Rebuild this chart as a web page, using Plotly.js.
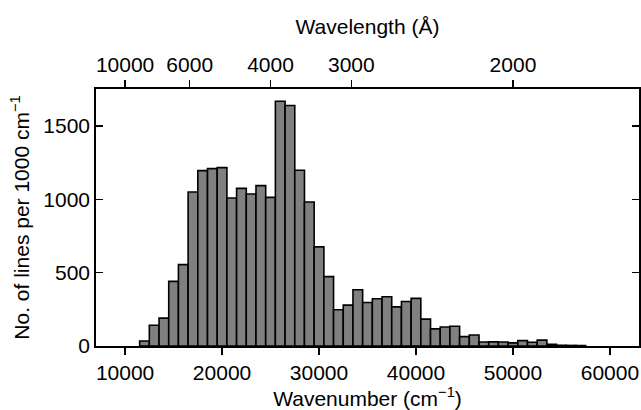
<!DOCTYPE html>
<html>
<head>
<meta charset="utf-8">
<script src="https://cdn.plot.ly/plotly-3.0.1.min.js"></script>
<style>html,body{margin:0;padding:0;background:#fff;}#chart{width:641px;height:410px;}</style>
</head>
<body>
<div id="chart"></div>
<script>
// Bin centres (cm^-1), 1000 cm^-1 wide bins
var wavenumbers = [12000,13000,14000,15000,16000,17000,18000,19000,20000,21000,
                   22000,23000,24000,25000,26000,27000,28000,29000,30000,31000,
                   32000,33000,34000,35000,36000,37000,38000,39000,40000,41000,
                   42000,43000,44000,45000,46000,47000,48000,49000,50000,51000,
                   52000,53000,54000,55000,56000,57000];
var counts = [34,142,190,441,555,1050,1196,1210,1217,1009,
              1075,1037,1094,1014,1669,1640,1199,982,676,473,
              247,279,384,297,322,336,267,304,325,183,
              117,130,135,64,75,27,28,27,21,37,
              26,40,11,5,4,3];
var binWidth = 1000;
var wavenumberTicks = [10000, 20000, 30000, 40000, 50000, 60000];
var wavenumberTickText = wavenumberTicks.map(String);
var countTicks = [0, 500, 1000, 1500];
var countTickText = countTicks.map(String);
var wavelengthTicks = [10000, 6000, 4000, 3000, 2000]; // Angstrom
var wavelengthTickVals = wavelengthTicks.map(function(l){ return 1e8 / l; });
var wavelengthTickText = wavelengthTicks.map(String);

var font = {family: 'Liberation Sans, Arial, sans-serif', size: 21, color: '#000'};
var xr = [7000, 63000];

var traces = [
  {
    type: 'bar',
    x: wavenumbers,
    y: counts,
    width: wavenumbers.map(function(){ return binWidth; }),
    marker: {color: '#808080', line: {color: '#000', width: 1.6}},
    xaxis: 'x', yaxis: 'y',
    hoverinfo: 'x+y'
  },
  {
    type: 'scatter', mode: 'markers',
    x: [xr[0], xr[1]], y: [0, 0],
    marker: {opacity: 0, size: 1}, xaxis: 'x2', yaxis: 'y',
    hoverinfo: 'skip', showlegend: false
  }
];

var layout = {
  width: 641, height: 410,
  margin: {l: 96, r: 2, t: 89, b: 64},
  paper_bgcolor: '#fff', plot_bgcolor: '#fff',
  showlegend: false,
  bargap: 0,
  font: font,
  xaxis: {
    range: xr,
    tickvals: wavenumberTicks, ticktext: wavenumberTickText,
    ticks: 'outside', ticklen: 7, tickwidth: 1.5, tickcolor: '#000',
    showline: true, linecolor: '#000', linewidth: 1.8, mirror: true,
    showgrid: false, zeroline: false,
    tickfont: font,
    title: {text: 'Wavenumber (cm<sup>\u22121</sup>)', font: font, standoff: 4}
  },
  xaxis2: {
    overlaying: 'x', side: 'top', anchor: 'y',
    range: xr,
    tickvals: wavelengthTickVals, ticktext: wavelengthTickText,
    ticks: 'outside', ticklen: 7, tickwidth: 1.5, tickcolor: '#000',
    showline: true, linecolor: '#000', linewidth: 1.8,
    showgrid: false, zeroline: false,
    tickfont: font,
    title: {text: 'Wavelength (\u00C5)', font: font, standoff: 12}
  },
  yaxis: {
    range: [0, 1753],
    tickvals: countTicks, ticktext: countTickText,
    ticks: 'inside', ticklen: 7, tickwidth: 1.5, tickcolor: '#000',
    showline: true, linecolor: '#000', linewidth: 1.8, mirror: 'ticks',
    showgrid: false, zeroline: false,
    tickfont: font,
    title: {text: 'No. of lines per 1000 cm<sup>\u22121</sup>', font: font, standoff: 8}
  }
};

Plotly.newPlot('chart', traces, layout, {displayModeBar: false, staticPlot: true});
</script>
</body>
</html>
